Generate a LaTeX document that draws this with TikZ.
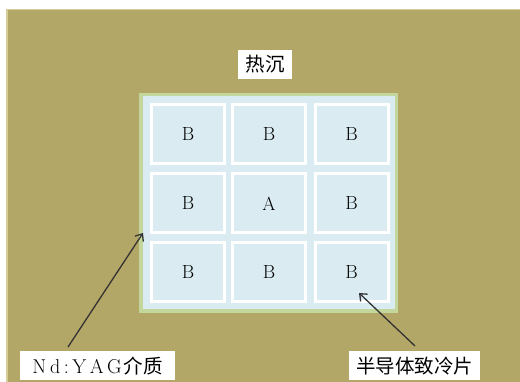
\documentclass[tikz,border=0pt]{standalone}
\usepackage{fontspec}
\newfontfamily\cjk{Noto Sans CJK SC}
\usetikzlibrary{arrows.meta}
\definecolor{bgolive}{RGB}{179,167,103}
\definecolor{bgedge}{RGB}{214,204,150}
\definecolor{cellblue}{RGB}{218,236,242}
\definecolor{yaggreen}{RGB}{195,214,155}
\definecolor{arrowgray}{RGB}{51,51,51}
\tikzset{
  cellbox/.style={draw=white, line width=3pt, fill=cellblue, minimum width=73pt, minimum height=59pt, inner sep=0pt, font=\fontsize{19}{22}\selectfont},
  labelbox/.style={fill=white, minimum height=29pt, inner sep=0pt, font=\fontsize{19.5}{22}\selectfont},
  arr/.style={draw=arrowgray, line width=1.3pt, -{Straight Barb[length=6pt,width=10pt]}}
}
\begin{document}
\begin{tikzpicture}[x=1pt,y=-1pt]
\useasboundingbox (0,0) rectangle (520,382);
\fill[white] (0,0) rectangle (520,382);
\fill[bgolive] (6,9) rectangle (520,382);
\draw[bgedge, line width=1.5pt] (6.75,382) -- (6.75,9.75) -- (520,9.75);
% Nd:YAG medium
\node[draw=yaggreen, line width=3.5pt, fill=cellblue, minimum width=255.5pt, minimum height=216.5pt, inner sep=0pt] (yag) at (268.5,203) {};
% cells
\node[cellbox] (c11) at (188,134) {B};
\node[cellbox] (c12) at (269,134) {B};
\node[cellbox] (c13) at (351.5,134) {B};
\node[cellbox] (c21) at (188,203.5) {B};
\node[cellbox] (c22) at (269,203.5) {A};
\node[cellbox] (c23) at (351.5,203.5) {B};
\node[cellbox] (c31) at (188,272) {B};
\node[cellbox] (c32) at (269,272) {B};
\node[cellbox] (c33) at (351.5,272) {B};
% labels
\node[labelbox, minimum width=54pt] (heat) at (265,64.5) {\cjk 热沉};
\node[labelbox, minimum width=155pt] (nd) at (97.5,366) {\fontsize{20}{22}\selectfont N\hspace{4pt}d\hspace{3.5pt}:\hspace{3.5pt}Y\hspace{3.5pt}A\hspace{3.5pt}G\hspace{2pt}{\cjk\fontsize{19.5}{22}\selectfont 介质}};
\node[labelbox, minimum width=131pt] (tec) at (414.5,366) {\cjk 半导体致冷片};
% arrows
\coordinate (a1s) at (68,347);
\coordinate (a1e) at (143,233);
\coordinate (a2s) at (415,346);
\coordinate (a2e) at (359,293);
\draw[arr] (a1s) -- (a1e);
\draw[arr] (a2s) -- (a2e);
\end{tikzpicture}
\end{document}
